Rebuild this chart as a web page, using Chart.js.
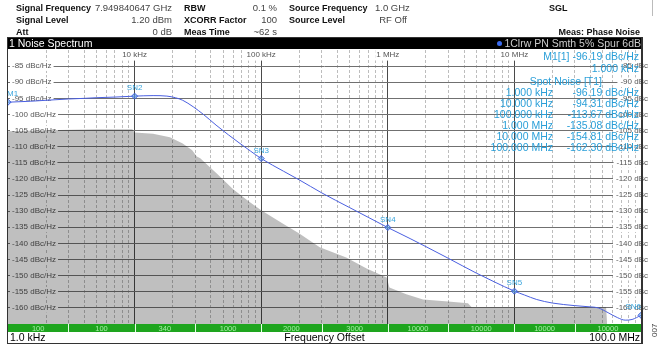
<!DOCTYPE html>
<html>
<head>
<meta charset="utf-8">
<script src="https://cdn.jsdelivr.net/npm/chart.js@4.4.1/dist/chart.umd.min.js"></script>
<style>
  html, body { margin: 0; padding: 0; background: #fff; }
  body { width: 663px; height: 345px; position: relative; overflow: hidden; font-family: "Liberation Sans", Arial, sans-serif; }
  #chart { position: absolute; left: 0; top: 0; }
  .t { position: absolute; white-space: nowrap; font-size: 9.5px; line-height: 12px; color: #444; }
  .b { font-weight: bold; color: #111; font-size: 9px; }
  .an { position: absolute; white-space: nowrap; font-size: 10.5px; line-height: 11px; color: #2a9fd8; }
  #bar { position: absolute; left: 7px; top: 37px; width: 636px; height: 12px; background: #000; }
  #frame { position: absolute; left: 7px; top: 37px; width: 636px; height: 307px; box-sizing: border-box; border: 1px solid #333; border-right-width: 2px; pointer-events: none; }
  .ft { position: absolute; top: 332px; font-size: 10.5px; line-height: 11px; color: #000; white-space: nowrap; }
</style>
</head>
<body>
<canvas id="chart" width="663" height="345"></canvas>

<!-- header -->
<div class="t b" style="left:16px;top:2px">Signal Frequency</div>
<div class="t" style="right:491px;top:2px">7.949840647 GHz</div>
<div class="t b" style="left:184px;top:2px">RBW</div>
<div class="t" style="right:386px;top:2px">0.1 %</div>
<div class="t b" style="left:289px;top:2px">Source Frequency</div>
<div class="t" style="left:375px;top:2px">1.0 GHz</div>
<div class="t b" style="left:549px;top:2px">SGL</div>

<div class="t b" style="left:16px;top:14px">Signal Level</div>
<div class="t" style="right:491px;top:14px">1.20 dBm</div>
<div class="t b" style="left:184px;top:14px">XCORR Factor</div>
<div class="t" style="right:386px;top:14px">100</div>
<div class="t b" style="left:289px;top:14px">Source Level</div>
<div class="t" style="right:256px;top:14px">RF Off</div>

<div class="t b" style="left:16px;top:26px">Att</div>
<div class="t" style="right:491px;top:26px">0 dB</div>
<div class="t b" style="left:184px;top:26px">Meas Time</div>
<div class="t" style="right:386px;top:26px">~62 s</div>
<div class="t b" style="right:23px;top:26px">Meas: Phase Noise</div>
<div style="position:absolute;left:652px;top:0;width:1px;height:16px;background:#bbb"></div>

<div id="bar">
  <div style="position:absolute;left:2px;top:0;font-size:10.5px;line-height:12px;color:#fff">1 Noise Spectrum</div>
  <div style="position:absolute;right:2px;top:0;font-size:10.5px;line-height:12px;color:#ccc;white-space:nowrap"><span style="display:inline-block;width:5px;height:5px;border-radius:3px;background:#3b6cf0;margin-right:2px;vertical-align:1px"></span>1Clrw PN Smth 5% Spur 6dB</div>
</div>

<!-- marker table -->
<div class="an" style="right:24px;top:51px">M1[1] -96.19 dBc/Hz</div>
<div class="an" style="right:24px;top:63px">1.000 kHz</div>
<div class="an" style="right:61px;top:76px">Spot Noise [T1]</div>
<div class="an" style="right:110px;top:87px">1.000 kHz</div>
<div class="an" style="right:24px;top:87px">-96.19 dBc/Hz</div>
<div class="an" style="right:110px;top:98px">10.000 kHz</div>
<div class="an" style="right:24px;top:98px">-94.31 dBc/Hz</div>
<div class="an" style="right:110px;top:109px">100.000 kHz</div>
<div class="an" style="right:24px;top:109px">-113.67 dBc/Hz</div>
<div class="an" style="right:110px;top:120px">1.000 MHz</div>
<div class="an" style="right:24px;top:120px">-135.08 dBc/Hz</div>
<div class="an" style="right:110px;top:131px">10.000 MHz</div>
<div class="an" style="right:24px;top:131px">-154.81 dBc/Hz</div>
<div class="an" style="right:110px;top:142px">100.000 MHz</div>
<div class="an" style="right:24px;top:142px">-162.30 dBc/Hz</div>

<!-- footer -->
<div class="ft" style="left:10px">1.0 kHz</div>
<div class="ft" style="left:8px;width:633px;text-align:center">Frequency Offset</div>
<div class="ft" style="right:23px">100.0 MHz</div>
<div id="frame"></div>
<div style="position:absolute;left:650px;top:337px;font-size:8px;color:#444;transform:rotate(-90deg);transform-origin:left top;white-space:nowrap">007</div>

<script>
// frequency offset (Hz) / level (dBc/Hz) of the measured trace
var traceFreq = [1e3, 1.5e3, 2e3, 3e3, 4e3, 5e3, 7e3, 1e4, 1.4e4, 1.8e4, 2.1e4, 2.4e4, 2.9e4, 3.5e4, 4.4e4,
  5.5e4, 6.8e4, 8.2e4, 1e5, 1.5e5, 2e5, 3e5, 5e5, 7e5, 1e6, 1.5e6, 2e6, 3e6, 5e6, 7e6, 1e7,
  1.2e7, 1.5e7, 2e7, 3e7, 4e7, 4.6e7, 5.5e7, 6.5e7, 7.5e7, 8.5e7, 1e8];
var traceLevel = [-96.19, -95.9, -95.6, -95.2, -95.0, -94.8, -94.6, -94.31, -94.15, -94.3, -94.8, -95.6, -97.6, -100.0, -103.3,
  -106.3, -109.0, -111.3, -113.67, -117.6, -120.3, -124.3, -128.9, -131.9, -135.08, -138.5, -141.0, -144.6, -149.2, -152.0, -154.81,
  -156.0, -157.4, -158.5, -159.3, -159.7, -160.0, -161.5, -163.0, -163.8, -163.6, -162.3];

// grey area (xcorr floor)
var floorFreq = [1e3, 2e3, 5e3, 9.6e3, 1e4, 1.4e4, 1.9e4, 2.4e4, 2.85e4, 3.1e4, 3.3e4, 4.5e4, 6e4, 8e4, 1e5,
  1.5e5, 2e5, 2.9e5, 4.7e5, 6.8e5, 9.8e5, 1.03e6, 1.4e6, 1.9e6, 3e6, 4.3e6, 4.6e6, 2e7, 5.3e7, 5.4e7];
var floorLevel = [-105.2, -104.9, -104.6, -104.6, -105.6, -106.0, -107.1, -109.0, -111.1, -113.0, -113.6, -118.5, -123.2, -127.0, -129.7,
  -134.0, -136.9, -141.2, -144.4, -147.8, -150.6, -153.7, -155.8, -157.4, -158.0, -158.6, -159.8, -159.8, -159.8, -165];

// markers
var markerNames = ["M1", "SN2", "SN3", "SN4", "SN5", "SN6"];
var markerFreq = [1e3, 1e4, 1e5, 1e6, 1e7, 1e8];
var markerLevel = [-96.19, -94.31, -113.67, -135.08, -154.81, -162.30];

// axes
var xTickValues = [1e4, 1e5, 1e6, 1e7];
var xTickLabels = ["10 kHz", "100 kHz", "1 MHz", "10 MHz"];
var yTickValues = [-85, -90, -95, -100, -105, -110, -115, -120, -125, -130, -135, -140, -145, -150, -155, -160];

// xcorr segments (green bar)
var segEdges = [1e3, 3e3, 1e4, 3e4, 1e5, 3e5, 1e6, 3e6, 1e7, 3e7, 1e8];
var segLabels = ["100", "100", "340", "1000", "2000", "3000", "10000", "10000", "10000", "10000"];

var minorValues = [];
[1e3, 1e4, 1e5, 1e6, 1e7].forEach(function (d) {
  for (var m = 2; m <= 9; m++) minorValues.push(d * m);
});

var FONT = "Liberation Sans";

function pts(xs, ys) {
  return xs.map(function (x, i) { return { x: x, y: ys[i] }; });
}

var segBar = {
  id: "segBar",
  afterDraw: function (chart) {
    var ctx = chart.ctx, area = chart.chartArea, xs = chart.scales.x;
    var top = area.bottom, h = 8;
    ctx.save();
    ctx.fillStyle = "#1ea51e";
    ctx.fillRect(area.left, top, area.right - area.left, h);
    ctx.font = "7.5px " + FONT;
    ctx.textAlign = "center";
    ctx.textBaseline = "middle";
    for (var i = 0; i < segLabels.length; i++) {
      var x0 = xs.getPixelForValue(segEdges[i]);
      var x1 = xs.getPixelForValue(segEdges[i + 1]);
      if (i > 0) {
        ctx.fillStyle = "#e8ffe8";
        ctx.fillRect(Math.round(x0), top, 1, h);
      }
      ctx.fillStyle = "#a6efa6";
      ctx.fillText(segLabels[i], (x0 + x1) / 2, top + h / 2 + 0.5);
    }
    ctx.restore();
  }
};

var markerLabels = {
  id: "markerLabels",
  afterDatasetsDraw: function (chart) {
    var ctx = chart.ctx;
    var meta = chart.getDatasetMeta(2);
    ctx.save();
    ctx.font = "8px " + FONT;
    ctx.fillStyle = "#3aa6de";
    ctx.textBaseline = "middle";
    meta.data.forEach(function (p, i) {
      ctx.textAlign = i === 0 ? "left" : (i === meta.data.length - 1 ? "right" : "center");
      var x = i === 0 ? p.x - 1 : p.x;
      ctx.fillText(markerNames[i], x, p.y - 8);
    });
    ctx.restore();
  }
};

new Chart(document.getElementById("chart").getContext("2d"), {
  type: "line",
  data: {
    datasets: [
      {
        data: pts(floorFreq, floorLevel),
        fill: "start",
        backgroundColor: "rgba(0,0,0,0.25)",
        borderWidth: 0,
        pointRadius: 0,
        tension: 0,
        order: 3
      },
      {
        data: pts(traceFreq, traceLevel),
        borderColor: "#4a5fe0",
        borderWidth: 1,
        pointRadius: 0,
        cubicInterpolationMode: "monotone",
        fill: false,
        order: 2
      },
      {
        data: pts(markerFreq, markerLevel),
        showLine: false,
        pointStyle: "rectRot",
        pointRadius: 3,
        borderWidth: 1,
        borderColor: "#3d5be0",
        backgroundColor: "rgba(90,170,230,0.5)",
        order: 1
      }
    ]
  },
  options: {
    responsive: false,
    animation: false,
    events: [],
    layout: { padding: { left: 0, right: 8, top: 50, bottom: 21 }, autoPadding: false },
    plugins: { legend: { display: false }, tooltip: { enabled: false } },
    scales: {
      x: {
        type: "logarithmic",
        position: "top",
        min: 1e3,
        max: 1e8,
        afterBuildTicks: function (s) { s.ticks = xTickValues.map(function (v) { return { value: v }; }); },
        ticks: {
          mirror: true,
          padding: 0,
          autoSkip: false,
          maxRotation: 0,
          callback: function (v, i) { return xTickLabels[i]; },
          font: { family: FONT, size: 8 },
          color: "#555",
          showLabelBackdrop: true,
          backdropColor: "#fff",
          backdropPadding: { x: 1, y: 1 }
        },
        grid: { color: "#4a4a4a", drawTicks: false },
        border: { display: false }
      },
      xm: {
        type: "logarithmic",
        position: "top",
        display: true,
        min: 1e3,
        max: 1e8,
        afterBuildTicks: function (s) { s.ticks = minorValues.map(function (v) { return { value: v }; }); },
        ticks: { display: false },
        grid: { color: "#bdbdbd", drawTicks: false },
        border: { display: false, dash: [3, 2] }
      },
      y: {
        position: "left",
        min: -165,
        max: -80,
        afterBuildTicks: function (s) { s.ticks = yTickValues.map(function (v) { return { value: v }; }); },
        ticks: {
          mirror: true,
          padding: 4,
          callback: function (v) { return v + " dBc/Hz"; },
          font: { family: FONT, size: 8 },
          color: "#555",
          showLabelBackdrop: true,
          backdropColor: "#fff",
          backdropPadding: { x: 2, y: 0 }
        },
        grid: { color: "#707070", drawTicks: false },
        border: { display: false }
      },
      y2: {
        position: "right",
        display: true,
        min: -165,
        max: -80,
        afterBuildTicks: function (s) { s.ticks = yTickValues.map(function (v) { return { value: v }; }); },
        ticks: {
          mirror: true,
          padding: 7,
          callback: function (v) { return v + " dBc"; },
          font: { family: FONT, size: 8 },
          color: "#555",
          showLabelBackdrop: true,
          backdropColor: "#fff",
          backdropPadding: { x: 3, y: 0 }
        },
        grid: { display: false, drawTicks: false },
        border: { display: false }
      }
    }
  },
  plugins: [segBar, markerLabels]
});
</script>
</body>
</html>
